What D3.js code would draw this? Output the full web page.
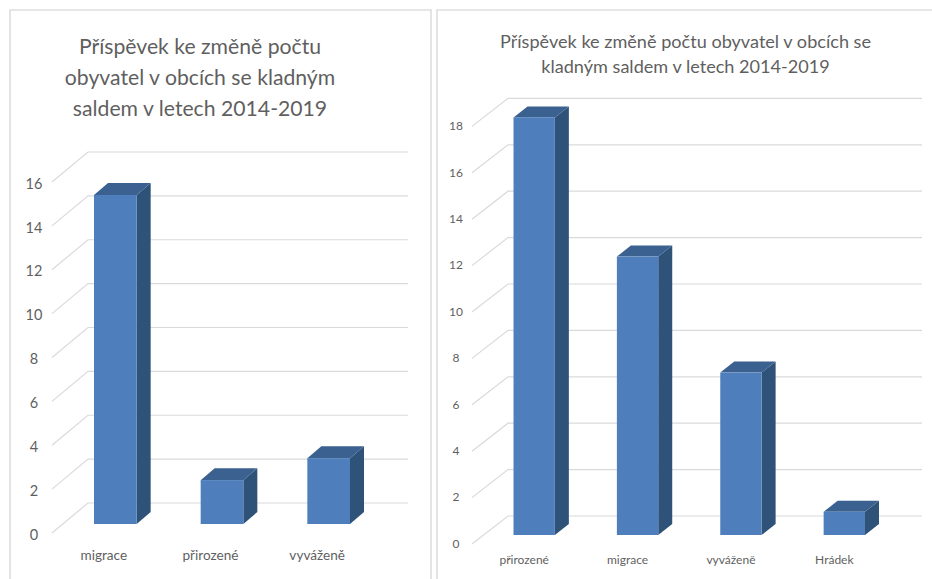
<!DOCTYPE html>
<html><head><meta charset="utf-8">
<script src="https://cdnjs.cloudflare.com/ajax/libs/d3/7.8.5/d3.min.js"></script>
<style>html,body{margin:0;padding:0;background:#fff}svg{display:block}text{font-family:Lato,"Open Sans",sans-serif}</style>
</head><body><svg id="c" width="932" height="579"></svg>
<script>
const titleLeft = ["Příspěvek ke změně počtu","obyvatel v obcích se kladným","saldem v letech 2014-2019"];
const categoriesLeft = ["migrace","přirozené","vyváženě"];
const valuesLeft = [15,2,3];
const ticksLeft = [0,2,4,6,8,10,12,14,16];
const titleRight = ["Příspěvek ke změně počtu obyvatel v obcích se","kladným saldem v letech 2014-2019"];
const categoriesRight = ["přirozené","migrace","vyváženě","Hrádek"];
const valuesRight = [18,12,7,1];
const ticksRight = [0,2,4,6,8,10,12,14,16,18];

const svg = d3.select("#c");
const FRONT="#4e7fbc", SIDE="#2f5279", TOP="#3a618f", GRID="#dadada", TXT="#5f5f5f";

function panel(o){
  const g = svg.append("g");
  g.append("path").attr("d",o.border).attr("fill","none").attr("stroke","#dedede").attr("stroke-width",1.6);
  const t = g.append("g").attr("fill",TXT).attr("text-anchor","middle").attr("font-size",o.titleSize);
  t.selectAll("text").data(o.title).join("text")
    .attr("x",o.titleX).attr("y",(d,i)=>o.titleY+i*o.titleLead).attr("dy","0.35em").text(d=>d);

  const y = d3.scaleLinear().domain([0,d3.max(o.ticks)]).range(o.yRange);
  const x = d3.scaleBand().domain(o.cats).range(o.xRange).paddingInner(0.6).paddingOuter(0.3);

  const grid = g.append("g").attr("stroke",GRID).attr("stroke-width",1.2).attr("fill","none");
  grid.selectAll("path").data(o.ticks).join("path")
    .attr("d",v=>`M${o.wallFront},${y(v)+o.frontDy}L${o.wallBack},${y(v)+o.backDy}H${o.wallEnd}`);

  const ya = g.append("g").attr("transform",`translate(${o.yLabelX},${o.frontDy+o.yLabelDy})`)
    .call(d3.axisLeft(y).tickValues(o.ticks).tickSize(0).tickPadding(0));
  ya.select(".domain").remove();
  ya.selectAll("text").attr("fill",TXT).attr("font-size",o.tickSize).attr("font-family","Lato,'Open Sans',sans-serif").attr("text-anchor","middle");

  const xa = g.append("g").attr("transform",`translate(${o.xLabelDx},${o.xLabelY})`)
    .call(d3.axisBottom(x).tickSize(0).tickPadding(0));
  xa.select(".domain").remove();
  xa.selectAll("text").attr("fill",TXT).attr("font-size",o.catSize).attr("font-family","Lato,'Open Sans',sans-serif").attr("dy","0.35em");

  const bars = g.append("g").selectAll("g").data(o.cats.map((c,i)=>({c,v:o.vals[i]}))).join("g");
  const dx=o.depthX, dy=o.depthY, w=x.bandwidth();
  bars.append("path").attr("fill",SIDE)
    .attr("d",d=>`M${x(d.c)+w},${y(d.v)}l${dx},${-dy}V${y(0)-dy}l${-dx},${dy}Z`);
  bars.append("path").attr("fill",TOP)
    .attr("d",d=>`M${x(d.c)},${y(d.v)}l${dx},${-dy}h${w}l${-dx},${dy}Z`);
  bars.append("rect").attr("fill",FRONT)
    .attr("x",d=>x(d.c)).attr("y",d=>y(d.v)).attr("width",w).attr("height",d=>y(0)-y(d.v));
}

panel({border:"M10,579V10H431V579",title:titleLeft,titleX:200,titleY:47,titleLead:31,titleSize:21.2,
  cats:categoriesLeft,vals:valuesLeft,ticks:ticksLeft,yRange:[524,173],xRange:[62,382],
  frontDy:9,backDy:-21,wallFront:52,wallBack:88,wallEnd:408,yLabelX:34,yLabelDy:1.5,tickSize:14.5,
  xLabelDx:-11.5,xLabelY:555,catSize:13.6,depthX:14,depthY:12});
panel({border:"M437,579V10H932",title:titleRight,titleX:685.5,titleY:42,titleLead:24.5,titleSize:18.1,
  cats:categoriesRight,vals:valuesRight,ticks:ticksRight,yRange:[535,117.4],xRange:[482.5,896],
  frontDy:9,backDy:-19,wallFront:472,wallBack:508,wallEnd:922,yLabelX:456,yLabelDy:-0.5,tickSize:12,
  xLabelDx:-10,xLabelY:560,catSize:12,depthX:14,depthY:11});
</script></body></html>
